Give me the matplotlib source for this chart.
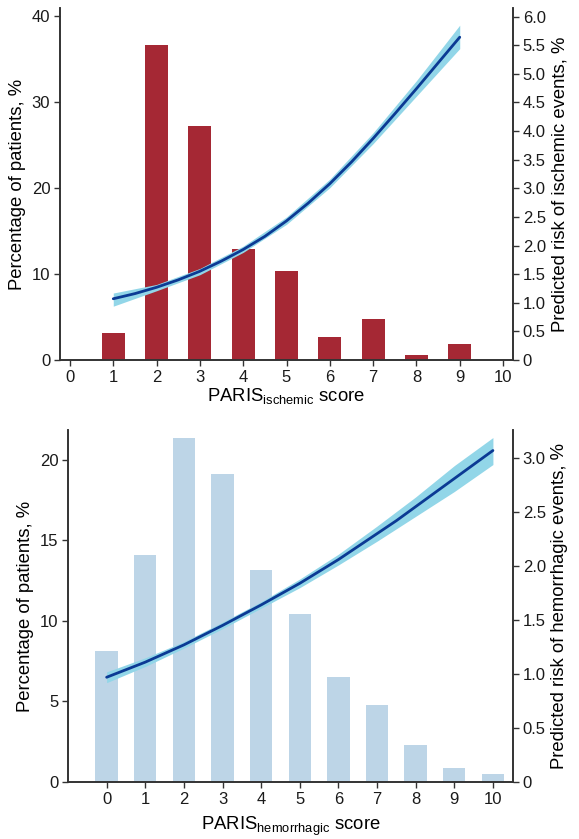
import matplotlib
matplotlib.use("Agg")
import matplotlib.pyplot as plt
import numpy as np

plt.rcParams['font.family'] = ['Liberation Sans', 'DejaVu Sans']
plt.rcParams['mathtext.fontset'] = 'custom'
plt.rcParams['mathtext.rm'] = 'Liberation Sans'
plt.rcParams['mathtext.it'] = 'Liberation Sans'

# PARIS ischemic score: distribution of patients and predicted risk
isch_scores = [0, 1, 2, 3, 4, 5, 6, 7, 8, 9]
isch_pct = [0, 3.1, 36.6, 27.2, 12.9, 10.35, 2.65, 4.8, 0.6, 1.85]
isch_curve_x = [1, 1.5, 2, 2.5, 3, 3.5, 4, 4.5, 5, 5.5, 6, 6.5, 7, 7.5, 8, 8.5, 9]
isch_risk = [1.07, 1.16, 1.27, 1.40, 1.55, 1.73, 1.93, 2.16, 2.43, 2.74, 3.08,
             3.46, 3.87, 4.30, 4.74, 5.19, 5.64]
isch_band_x = [1, 2, 3, 4, 5, 6, 7, 8, 9]
isch_low = [0.94, 1.21, 1.49, 1.88, 2.37, 3.01, 3.78, 4.61, 5.44]
isch_high = [1.17, 1.32, 1.60, 1.99, 2.50, 3.16, 3.97, 4.88, 5.85]

# PARIS hemorrhagic score
hem_scores = [0, 1, 2, 3, 4, 5, 6, 7, 8, 9, 10]
hem_pct = [8.15, 14.1, 21.35, 19.1, 13.15, 10.45, 6.5, 4.75, 2.3, 0.9, 0.48]
hem_curve_x = [0, 0.5, 1, 1.5, 2, 2.5, 3, 3.5, 4, 4.5, 5, 5.5, 6, 6.5, 7, 7.5,
               8, 8.5, 9, 9.5, 10]
hem_risk = [0.97, 1.04, 1.11, 1.19, 1.27, 1.36, 1.45, 1.545, 1.64, 1.74, 1.84,
            1.95, 2.06, 2.18, 2.30, 2.42, 2.55, 2.68, 2.81, 2.94, 3.07]
hem_low = [0.92, 1.07, 1.24, 1.42, 1.61, 1.80, 2.01, 2.23, 2.46, 2.69, 2.94]
hem_high = [1.02, 1.15, 1.30, 1.48, 1.67, 1.88, 2.11, 2.37, 2.64, 2.93, 3.19]

line_col = '#0b3a94'
band_col = '#92d6e8'
spine_col = '#333333'
tick_fs = 12
label_fs = 13.3

fig = plt.figure(figsize=(5.79, 8.39), dpi=100)


def style_axes(ax, ax2):
    for a in (ax, ax2):
        a.spines['top'].set_visible(False)
        for s in ('left', 'right', 'bottom'):
            a.spines[s].set_color(spine_col)
            a.spines[s].set_linewidth(1.2)
        a.tick_params(colors=spine_col, labelcolor='#1a1a1a', labelsize=tick_fs,
                      length=4, width=1, pad=3)


# ---- top panel ----
ax = fig.add_axes([60 / 579, 1 - 360 / 839, 453 / 579, 352 / 839])
ax.bar(isch_scores, isch_pct, width=0.53, color='#a52834', zorder=2)
ax.set_xlim(-0.23, 10.23)
ax.set_ylim(0, 40.9)
ax.set_xticks(range(0, 11))
ax.set_yticks([0, 10, 20, 30, 40])
ax.set_ylabel('Percentage of patients, %', fontsize=label_fs, labelpad=4)
ax.set_xlabel(r'PARIS$_{\mathrm{ischemic}}$ score', fontsize=label_fs, labelpad=1)

ax2 = ax.twinx()
ax2.fill_between(isch_band_x, isch_low, isch_high, color=band_col, lw=0)
ax2.plot(isch_curve_x, isch_risk, color=line_col, lw=2.0, solid_capstyle='round')
ax2.set_ylim(0, 6.15)
rt = [0, 0.5, 1, 1.5, 2, 2.5, 3, 3.5, 4, 4.5, 5, 5.5, 6]
ax2.set_yticks(rt)
ax2.set_yticklabels(['0'] + [f'{v:.1f}' for v in rt[1:]])
ax2.set_ylabel('Predicted risk of ischemic events, %', fontsize=label_fs, labelpad=4)
style_axes(ax, ax2)

# ---- bottom panel ----
bx = fig.add_axes([68 / 579, 1 - 782 / 839, 445 / 579, 352 / 839])
bx.bar(hem_scores, hem_pct, width=0.58, color='#bdd5e7', zorder=2)
bx.set_xlim(-1, 10.52)
bx.set_ylim(0, 21.85)
bx.set_xticks(range(0, 11))
bx.set_yticks([0, 5, 10, 15, 20])
bx.set_ylabel('Percentage of patients, %', fontsize=label_fs, labelpad=4)
bx.set_xlabel(r'PARIS$_{\mathrm{hemorrhagic}}$ score', fontsize=label_fs, labelpad=6)

bx2 = bx.twinx()
bx2.fill_between(hem_scores, hem_low, hem_high, color=band_col, lw=0)
bx2.plot(hem_curve_x, hem_risk, color=line_col, lw=2.0, solid_capstyle='round')
bx2.set_ylim(0, 3.26)
rt2 = [0, 0.5, 1, 1.5, 2, 2.5, 3]
bx2.set_yticks(rt2)
bx2.set_yticklabels(['0'] + [f'{v:.1f}' for v in rt2[1:]])
bx2.set_ylabel('Predicted risk of hemorrhagic events, %', fontsize=label_fs, labelpad=4)
style_axes(bx, bx2)

fig.savefig('out.png', dpi=100)
